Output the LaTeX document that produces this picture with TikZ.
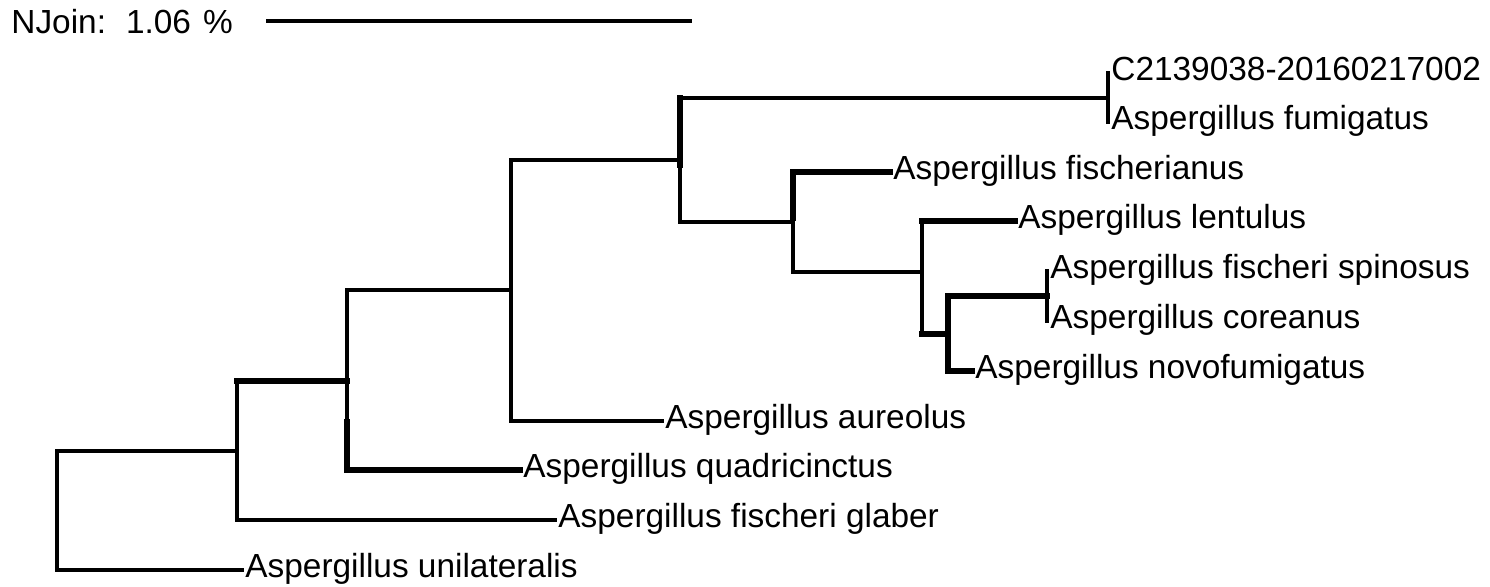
\documentclass[tikz,border=0pt]{standalone}
\usepackage{fontspec}
\setmainfont{Liberation Sans}
\begin{document}
\begin{tikzpicture}[x=0.5pt,y=-0.5pt,
  nb/.style={line width=1.6pt, line cap=rect, line join=miter},
  tk/.style={line width=2.6pt, line cap=rect, line join=miter},
  leaf/.style={anchor=west, inner sep=0pt, text height=0.72em, text depth=0pt, font=\fontsize{16.7pt}{18pt}\selectfont, xshift=1.5pt}]
\useasboundingbox (0,0) rectangle (1490,586);
% scale bar
\node[anchor=base west, inner sep=0pt, font=\fontsize{16.7pt}{18pt}\selectfont] (lab) at (11,33) {NJoin:\hspace{10pt}1.06\hspace{6pt}\%};
\coordinate (sb1) at (266,21);
\coordinate (sb2) at (692,21);
\draw[nb, line cap=butt] (sb1) -- (sb2);
% internal nodes
\coordinate (r)  at (57,510.5);
\coordinate (n1) at (237,451);
\coordinate (n2) at (347,381);
\coordinate (n3) at (511,290);
\coordinate (n4) at (680,160);
\coordinate (n5) at (1108,98);
\coordinate (n6) at (793,222);
\coordinate (n7) at (922,272);
\coordinate (n8) at (948,334);
\coordinate (n9) at (1047,296);
% leaves
\coordinate (uni) at (242,570);
\coordinate (gla) at (555,520);
\coordinate (qua) at (520,470);
\coordinate (aur) at (662,421);
\coordinate (c21) at (1108,73);
\coordinate (fum) at (1108,122);
\coordinate (fis) at (890,172);
\coordinate (len) at (1015,221);
\coordinate (spi) at (1047,271);
\coordinate (cor) at (1047,321);
\coordinate (nov) at (972,371);
% branches
\draw[nb] (r) |- (n1);
\draw[nb] (r) |- (uni);
\draw[nb] (n1) |- (n2);
\draw[nb] (n1) |- (gla);
\draw[nb] (n2) |- (n3);
\draw[nb] (n2) |- (qua);
\draw[nb] (n3) |- (n4);
\draw[nb] (n3) |- (aur);
\draw[nb] (n4) |- (n5);
\draw[nb] (n4) |- (n6);
\draw[nb] (n5) -- (c21);
\draw[nb] (n5) -- (fum);
\draw[nb] (n6) |- (fis);
\draw[nb] (n6) |- (n7);
\draw[nb] (n7) |- (len);
\draw[nb] (n7) |- (n8);
\draw[nb] (n8) |- (n9);
\draw[nb] (n8) |- (nov);
\draw[nb] (n9) -- (spi);
\draw[nb] (n9) -- (cor);
% thicker segments
\draw[tk] (n1 |- n2) -- (n2);
\draw[tk] ([yshift=24pt]n2 |- qua) |- (qua);
\draw[tk] (n4 |- n5) -- ([yshift=-2.5pt]n4);
\draw[tk] (n6 |- fis) -- ([yshift=2pt]n6);
\draw[tk] (n6 |- fis) -- (fis);
\draw[tk] (n7 |- n8) -- (n8);
\draw[tk] (n8 |- n9) -- (n8 |- nov) -- (nov);
\draw[tk] (n8 |- n9) -- (n9);
\draw[tk] (n7 |- len) -- (len);
% labels
\node[leaf] (tc21) at (c21) {C2139038-20160217002};
\node[leaf] (tfum) at (fum) {Aspergillus fumigatus};
\node[leaf] (tfis) at (fis) {Aspergillus fischerianus};
\node[leaf] (tlen) at (len) {Aspergillus lentulus};
\node[leaf] (tspi) at (spi) {Aspergillus fischeri spinosus};
\node[leaf] (tcor) at (cor) {Aspergillus coreanus};
\node[leaf] (tnov) at (nov) {Aspergillus novofumigatus};
\node[leaf] (taur) at (aur) {Aspergillus aureolus};
\node[leaf] (tqua) at (qua) {Aspergillus quadricinctus};
\node[leaf] (tgla) at (gla) {Aspergillus fischeri glaber};
\node[leaf] (tuni) at (uni) {Aspergillus unilateralis};
\end{tikzpicture}
\end{document}
